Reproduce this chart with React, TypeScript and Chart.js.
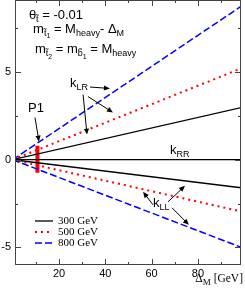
import React, { useEffect, useRef } from "react";
import { Chart, registerables } from "chart.js";
Chart.register(...registerables);

// ---- data ----
const DELTA_M = [0, 100];
const K_LR_300 = [0, 3.01];
const K_LR_500 = [0, 5.27];
const K_LR_800 = [0, 8.86];
const K_RR = [0, 0];
const K_LL_300 = [0, -1.62];
const K_LL_500 = [0, -2.99];
const K_LL_800 = [0, -5.06];
const P1_X = [10.7, 10.7];
const P1_Y = [0.8, -0.75];
const X_TICKS = [20, 40, 60, 80];
const X_MINOR = [10, 30, 50, 70, 90];
const Y_TICKS = [-5, 0, 5];
const Y_MINOR = [-2.5, 2.5, 7.5];
const LEGEND_LABELS = ["300 GeV", "500 GeV", "800 GeV"];

const SANS = "'Liberation Sans', Arial, sans-serif";
const SERIF = "'Liberation Serif', 'Times New Roman', serif";

const STYLES = [
  { color: "#000000", width: 1.3, dash: [] as number[] },
  { color: "#ff0000", width: 2, dash: [2, 4] },
  { color: "#0000ff", width: 1.5, dash: [7, 3] },
];

const pts = (ys: number[]) => DELTA_M.map((x, i) => ({ x, y: ys[i] }));

type Part = [string, number];

function drawRich(ctx: CanvasRenderingContext2D, x: number, y: number, parts: Part[], sizes: number[], family: string, align: "left" | "right" = "left") {
  const offs = [0, 3, 5.5];
  let total = 0;
  for (const [t, l] of parts) {
    ctx.font = `${sizes[l]}px ${family}`;
    total += ctx.measureText(t).width;
  }
  let cx = align === "right" ? x - total : x;
  ctx.textAlign = "left";
  ctx.textBaseline = "alphabetic";
  for (const [t, l] of parts) {
    ctx.font = `${sizes[l]}px ${family}`;
    ctx.fillText(t, cx, y + offs[l]);
    cx += ctx.measureText(t).width;
  }
}

function arrow(ctx: CanvasRenderingContext2D, x1: number, y1: number, x2: number, y2: number) {
  const a = Math.atan2(y2 - y1, x2 - x1);
  const L = 6, W = 2.6;
  ctx.beginPath();
  ctx.moveTo(x1, y1);
  ctx.lineTo(x2 - Math.cos(a) * (L - 1), y2 - Math.sin(a) * (L - 1));
  ctx.stroke();
  ctx.beginPath();
  ctx.moveTo(x2, y2);
  ctx.lineTo(x2 - L * Math.cos(a) + W * Math.sin(a), y2 - L * Math.sin(a) - W * Math.cos(a));
  ctx.lineTo(x2 - L * Math.cos(a) - W * Math.sin(a), y2 - L * Math.sin(a) + W * Math.cos(a));
  ctx.closePath();
  ctx.fill();
}

// annotation anchors in data units
const TEXT_LINES: { x: number; y: number; parts: Part[] }[] = [
  { x: 7.0, y: 8.0, parts: [["θ", 0], ["t\u0303", 1], [" = -0.01", 0]] },
  { x: 8.8, y: 7.22, parts: [["m", 0], ["t\u0303", 1], ["1", 2], [" = M", 0], ["heavy", 1], ["- Δ", 0], ["M", 1]] },
  { x: 9.6, y: 6.08, parts: [["m", 0], ["t\u0303", 1], ["2", 2], [" = m", 0], ["b\u0303", 1], ["1", 2], [" = M", 0], ["heavy", 1]] },
];
const LABELS: { x: number; y: number; parts: Part[] }[] = [
  { x: 24.8, y: 4.17, parts: [["k", 0], ["LR", 1]] },
  { x: 67.9, y: 0.33, parts: [["k", 0], ["RR", 1]] },
  { x: 60.6, y: -2.69, parts: [["k", 0], ["LL", 1]] },
  { x: 6.6, y: 2.74, parts: [["P1", 0]] },
];
const ARROWS = [
  [33.4, 4.14, 42.0, 4.06],
  [32.5, 3.6, 43.3, 2.69],
  [30.4, 3.71, 32.1, 1.43],
  [9.64, 2.4, 11.36, 1.03],
  [60.6, -2.57, 56.3, -1.83],
  [67.1, -2.4, 74.4, -1.49],
  [68.8, -2.74, 76.1, -3.71],
];

const decor = {
  id: "decor",
  afterDatasetsDraw(chart: any) {
    const { ctx, chartArea: a, scales } = chart;
    const xs = scales.x, ys = scales.y;
    const X = (v: number) => xs.getPixelForValue(v);
    const Y = (v: number) => ys.getPixelForValue(v);
    ctx.save();
    // frame
    ctx.strokeStyle = "#444";
    ctx.lineWidth = 1;
    ctx.setLineDash([]);
    ctx.strokeRect(Math.round(a.left) + 0.5, Math.round(a.top) + 0.5, Math.round(a.right - a.left) - 1, Math.round(a.bottom - a.top) - 1);
    // inward ticks
    ctx.beginPath();
    const tick = (v: number, len: number) => {
      const p = Math.round(X(v)) + 0.5;
      ctx.moveTo(p, a.bottom); ctx.lineTo(p, a.bottom - len);
      ctx.moveTo(p, a.top); ctx.lineTo(p, a.top + len);
    };
    X_TICKS.forEach((v) => tick(v, 6));
    X_MINOR.forEach((v) => tick(v, 3));
    const ytick = (v: number, len: number) => {
      const p = Math.round(Y(v)) + 0.5;
      ctx.moveTo(a.left, p); ctx.lineTo(a.left + len, p);
      ctx.moveTo(a.right, p); ctx.lineTo(a.right - len, p);
    };
    Y_TICKS.forEach((v) => ytick(v, 6));
    Y_MINOR.forEach((v) => ytick(v, 3));
    ctx.stroke();

    ctx.fillStyle = "#000";
    ctx.strokeStyle = "#000";
    // header text
    TEXT_LINES.forEach((t) => drawRich(ctx, X(t.x), Y(t.y), t.parts, [13, 9, 7], SANS));
    LABELS.forEach((t) => drawRich(ctx, X(t.x), Y(t.y), t.parts, [13, 9, 7], SANS));
    ctx.lineWidth = 1;
    ARROWS.forEach(([x1, y1, x2, y2]) => arrow(ctx, X(x1), Y(y1), X(x2), Y(y2)));

    // legend
    LEGEND_LABELS.forEach((lab, i) => {
      const s = STYLES[i];
      const yy = a.bottom - 44 + i * 11;
      ctx.strokeStyle = s.color;
      ctx.lineWidth = s.width;
      ctx.setLineDash(s.dash);
      ctx.beginPath();
      ctx.moveTo(a.left + 20, yy);
      ctx.lineTo(a.left + 38, yy);
      ctx.stroke();
      ctx.setLineDash([]);
      ctx.fillStyle = "#000";
      ctx.font = `11px ${SERIF}`;
      ctx.textBaseline = "middle";
      ctx.textAlign = "left";
      ctx.fillText(lab, a.left + 43, yy + 0.5);
    });

    // x axis title
    ctx.fillStyle = "#000";
    drawRich(ctx, a.right + 2, a.bottom + 17, [["Δ", 0], ["M", 1], [" [GeV]", 0]], [11.5, 9, 7], SERIF, "right");
    ctx.restore();
  },
};

const noPad = (s: any) => {
  s.paddingTop = 0;
  s.paddingBottom = 0;
  s.paddingLeft = 0;
  s.paddingRight = 0;
};

export default function App() {
  const ref = useRef<HTMLCanvasElement | null>(null);
  useEffect(() => {
    if (!ref.current) return;
    const ds = (label: string, ys: number[], s: { color: string; width: number; dash: number[] }) => ({
      label,
      data: pts(ys),
      borderColor: s.color,
      backgroundColor: s.color,
      borderWidth: s.width,
      borderDash: s.dash,
      borderCapStyle: "butt" as const,
      pointRadius: 0,
      fill: false,
      tension: 0,
    });
    const chart = new Chart(ref.current, {
      type: "line",
      data: {
        datasets: [
          ds("300 GeV LR", K_LR_300, STYLES[0]),
          ds("300 GeV LL", K_LL_300, STYLES[0]),
          ds("RR", K_RR, STYLES[0]),
          ds("500 GeV LR", K_LR_500, STYLES[1]),
          ds("500 GeV LL", K_LL_500, STYLES[1]),
          ds("800 GeV LR", K_LR_800, STYLES[2]),
          ds("800 GeV LL", K_LL_800, STYLES[2]),
          {
            label: "P1",
            data: P1_X.map((x, i) => ({ x, y: P1_Y[i] })),
            borderColor: "#ff0000",
            borderWidth: 4,
            pointRadius: 0,
            fill: false,
          },
        ] as any,
      },
      options: {
        animation: false,
        responsive: false,
        devicePixelRatio: 1,
        layout: { autoPadding: false, padding: { top: 0, right: 4, left: 0, bottom: 0 } },
        plugins: { legend: { display: false }, tooltip: { enabled: false } },
        scales: {
          x: {
            type: "linear",
            min: 1,
            max: 98.6,
            grid: { display: false, drawTicks: false },
            border: { display: false },
            ticks: { font: { family: SANS, size: 11 }, color: "#000", padding: 2, autoSkip: false, maxRotation: 0 },
            afterBuildTicks: (s: any) => { s.ticks = X_TICKS.map((v) => ({ value: v })); },
            afterFit: (s: any) => { s.height = 29; noPad(s); },
          },
          y: {
            type: "linear",
            min: -6,
            max: 9.1,
            grid: { display: false, drawTicks: false },
            border: { display: false },
            ticks: { font: { family: SANS, size: 11 }, color: "#000", padding: 4, autoSkip: false },
            afterBuildTicks: (s: any) => { s.ticks = Y_TICKS.map((v) => ({ value: v })); },
            afterFit: (s: any) => { s.width = 15; noPad(s); },
          },
        },
      },
      plugins: [decor],
    });
    return () => chart.destroy();
  }, []);
  return (
    <div style={{ position: "absolute", left: 0, top: 0, width: 245, height: 294, background: "#fff" }}>
      <canvas ref={ref} width={245} height={294} style={{ width: 245, height: 294, display: "block" }} />
    </div>
  );
}
